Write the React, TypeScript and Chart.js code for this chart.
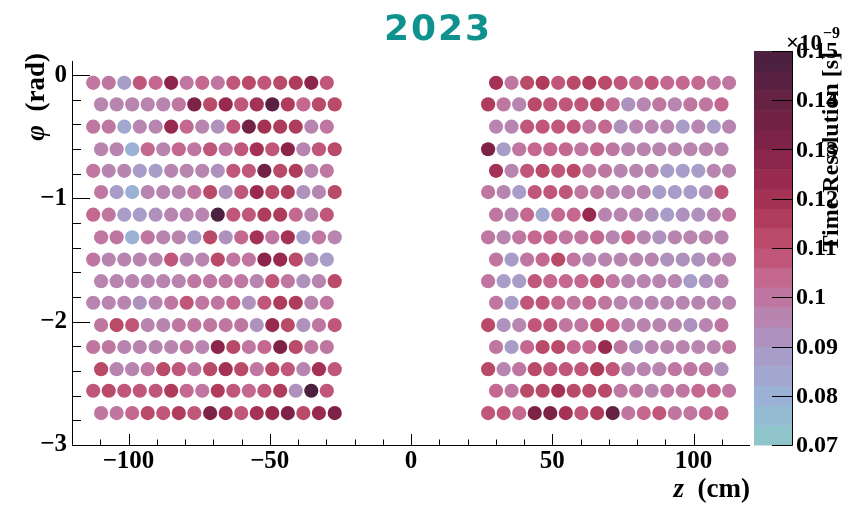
import React, { useEffect, useRef } from "react";
import { Chart, registerables } from "chart.js";

Chart.register(...registerables);

// ---------- data ----------
const chartTitle = "2023";

// phi (rad) of each row of sensors, top to bottom
const phiRows = [
  -0.062, -0.237, -0.418, -0.601, -0.776, -0.948, -1.132, -1.315,
  -1.496, -1.671, -1.846, -2.027, -2.205, -2.385, -2.56, -2.741,
];

// z (cm) of the columns for rows 1,3,5,... and rows 2,4,6,...
const zOddRows = [
  -112.5, -107.0, -101.5, -96.0, -90.4, -84.9, -79.4, -73.9, -68.4, -62.9, -57.4, -51.9, -46.3, -40.8, -35.3, -29.8,
  30.1, 35.6, 41.1, 46.6, 52.1, 57.6, 63.1, 68.7, 74.2, 79.7, 85.2, 90.7, 96.2, 101.7, 107.2, 112.6,
];
const zEvenRows = [
  -109.7, -104.2, -98.7, -93.2, -87.7, -82.2, -76.7, -71.1, -65.6, -60.1, -54.6, -49.1, -43.6, -38.1, -32.6, -27.0,
  27.3, 32.8, 38.3, 43.8, 49.3, 54.8, 60.3, 65.9, 71.4, 76.9, 82.4, 87.9, 93.4, 98.9, 104.4, 109.9,
];

// time resolution (x1e-9 s), one list per row, left half then right half
const row01 = [0.100, 0.099, 0.087, 0.106, 0.105, 0.128, 0.098, 0.104, 0.100, 0.107, 0.112, 0.109, 0.113, 0.115, 0.126, 0.109,
  0.119, 0.099, 0.110, 0.114, 0.109, 0.111, 0.116, 0.112, 0.106, 0.105, 0.109, 0.105, 0.105, 0.102, 0.098, 0.101];
const row02 = [0.097, 0.097, 0.096, 0.094, 0.097, 0.099, 0.130, 0.110, 0.123, 0.106, 0.120, 0.145, 0.115, 0.105, 0.110, 0.110,
  0.115, 0.101, 0.096, 0.110, 0.108, 0.108, 0.109, 0.111, 0.105, 0.093, 0.097, 0.099, 0.094, 0.099, 0.099, 0.103];
const row03 = [0.099, 0.098, 0.083, 0.094, 0.097, 0.124, 0.105, 0.097, 0.091, 0.106, 0.134, 0.120, 0.114, 0.116, 0.097, 0.101,
  0.096, 0.094, 0.108, 0.106, 0.108, 0.106, 0.100, 0.105, 0.091, 0.097, 0.095, 0.095, 0.088, 0.095, 0.089, 0.096];
const row04 = [0.095, 0.095, 0.080, 0.104, 0.095, 0.105, 0.099, 0.106, 0.098, 0.108, 0.119, 0.107, 0.128, 0.094, 0.109, 0.110,
  0.132, 0.088, 0.099, 0.104, 0.102, 0.105, 0.101, 0.102, 0.099, 0.097, 0.095, 0.094, 0.094, 0.094, 0.095, 0.097];
const row05 = [0.098, 0.097, 0.096, 0.088, 0.088, 0.096, 0.097, 0.095, 0.091, 0.106, 0.106, 0.134, 0.112, 0.114, 0.094, 0.101,
  0.118, 0.097, 0.108, 0.113, 0.108, 0.112, 0.099, 0.098, 0.096, 0.095, 0.094, 0.089, 0.088, 0.089, 0.097, 0.097];
const row06 = [0.099, 0.089, 0.080, 0.094, 0.095, 0.095, 0.098, 0.110, 0.092, 0.106, 0.122, 0.110, 0.114, 0.093, 0.096, 0.113,
  0.098, 0.097, 0.088, 0.109, 0.106, 0.106, 0.099, 0.101, 0.096, 0.096, 0.094, 0.089, 0.088, 0.089, 0.092, 0.106];
const row07 = [0.105, 0.098, 0.088, 0.089, 0.090, 0.095, 0.096, 0.097, 0.148, 0.108, 0.106, 0.116, 0.115, 0.105, 0.095, 0.109,
  0.099, 0.095, 0.102, 0.083, 0.105, 0.105, 0.124, 0.097, 0.096, 0.094, 0.093, 0.089, 0.092, 0.093, 0.095, 0.099];
const row08 = [0.101, 0.098, 0.081, 0.099, 0.094, 0.097, 0.088, 0.111, 0.092, 0.105, 0.118, 0.101, 0.121, 0.089, 0.098, 0.097,
  0.099, 0.095, 0.098, 0.105, 0.105, 0.098, 0.098, 0.105, 0.097, 0.102, 0.095, 0.093, 0.097, 0.096, 0.094, 0.094];
const row09 = [0.100, 0.095, 0.095, 0.095, 0.097, 0.107, 0.097, 0.097, 0.111, 0.099, 0.099, 0.128, 0.123, 0.112, 0.090, 0.089,
  0.098, 0.089, 0.100, 0.104, 0.111, 0.101, 0.096, 0.096, 0.095, 0.095, 0.094, 0.093, 0.092, 0.090, 0.097, 0.097];
const row10 = [0.095, 0.094, 0.094, 0.094, 0.095, 0.097, 0.098, 0.100, 0.099, 0.101, 0.094, 0.108, 0.101, 0.090, 0.097, 0.111,
  0.098, 0.089, 0.089, 0.109, 0.105, 0.102, 0.104, 0.106, 0.099, 0.096, 0.095, 0.095, 0.097, 0.088, 0.092, 0.097];
const row11 = [0.095, 0.095, 0.096, 0.090, 0.095, 0.098, 0.106, 0.098, 0.100, 0.103, 0.090, 0.108, 0.114, 0.116, 0.095, 0.101,
  0.098, 0.089, 0.108, 0.109, 0.105, 0.101, 0.104, 0.098, 0.097, 0.097, 0.095, 0.095, 0.094, 0.094, 0.095, 0.097];
const row12 = [0.098, 0.111, 0.109, 0.094, 0.094, 0.099, 0.098, 0.101, 0.101, 0.101, 0.091, 0.122, 0.110, 0.093, 0.098, 0.107,
  0.111, 0.090, 0.095, 0.109, 0.106, 0.101, 0.099, 0.109, 0.103, 0.095, 0.095, 0.094, 0.095, 0.090, 0.096, 0.101];
const row13 = [0.101, 0.098, 0.097, 0.095, 0.094, 0.095, 0.100, 0.095, 0.128, 0.111, 0.098, 0.105, 0.133, 0.112, 0.098, 0.101,
  0.098, 0.089, 0.104, 0.111, 0.111, 0.105, 0.105, 0.122, 0.098, 0.092, 0.095, 0.094, 0.094, 0.095, 0.097, 0.098];
const row14 = [0.112, 0.095, 0.097, 0.101, 0.112, 0.106, 0.100, 0.112, 0.120, 0.112, 0.099, 0.113, 0.108, 0.097, 0.119, 0.108,
  0.112, 0.097, 0.098, 0.112, 0.109, 0.108, 0.109, 0.114, 0.108, 0.096, 0.095, 0.095, 0.098, 0.098, 0.101, 0.093];
const row15 = [0.109, 0.110, 0.109, 0.106, 0.107, 0.114, 0.104, 0.101, 0.115, 0.106, 0.105, 0.109, 0.116, 0.091, 0.148, 0.108,
  0.103, 0.099, 0.111, 0.112, 0.119, 0.111, 0.113, 0.111, 0.099, 0.098, 0.096, 0.098, 0.101, 0.103, 0.104, 0.099];
const row16 = [0.099, 0.101, 0.104, 0.111, 0.109, 0.115, 0.106, 0.133, 0.121, 0.109, 0.120, 0.122, 0.132, 0.112, 0.124, 0.132,
  0.109, 0.106, 0.104, 0.131, 0.133, 0.119, 0.109, 0.114, 0.138, 0.099, 0.105, 0.107, 0.098, 0.100, 0.102, 0.104];
const resolutionRows = [row01, row02, row03, row04, row05, row06, row07, row08,
  row09, row10, row11, row12, row13, row14, row15, row16];

const xTickValues = [-100, -50, 0, 50, 100];
const yTickValues = [-3, -2, -1, 0];
const colorTickValues = [0.07, 0.08, 0.09, 0.1, 0.11, 0.12, 0.13, 0.14, 0.15];
const colorTickLabels = ["0.07", "0.08", "0.09", "0.1", "0.11", "0.12", "0.13", "0.14", "0.15"];
const colorMin = 0.07;
const colorMax = 0.15;
const nContours = 20;

// ---------- style ----------
const palette = [
  "#8fc4cb", "#94bbd1", "#9bb1d6", "#a2a7d0", "#a89dc8",
  "#ae91bd", "#b785b0", "#bf77a1", "#c46890", "#c0577a",
  "#b94a68", "#b03c5c", "#a43254", "#982a4f", "#8b254b",
  "#7e2348", "#722245", "#662243", "#5a2142", "#4c2140",
];
const SERIF = "'Liberation Serif', 'Times New Roman', serif";

function bandIndex(v: number) {
  let i = Math.floor(((v - colorMin) / (colorMax - colorMin)) * nContours + 1e-9);
  if (i < 0) i = 0;
  if (i > nContours - 1) i = nContours - 1;
  return i;
}

const decorations = {
  id: "decorations",
  afterDraw(chart: any) {
    const { ctx, chartArea, scales } = chart;
    const xs = scales.x;
    const ys = scales.y;
    const L = chartArea.left;
    const R = chartArea.right;
    const T = chartArea.top;
    const B = chartArea.bottom;
    ctx.save();
    ctx.strokeStyle = "#000";
    ctx.lineWidth = 1;

    // axis lines
    ctx.beginPath();
    ctx.moveTo(L + 0.5, T);
    ctx.lineTo(L + 0.5, B + 0.5);
    ctx.lineTo(R, B + 0.5);
    ctx.stroke();

    // x ticks (inward)
    ctx.beginPath();
    for (let v = -110; v <= 110; v += 10) {
      const px = Math.round(xs.getPixelForValue(v)) + 0.5;
      const len = v % 50 === 0 ? 11 : 5.5;
      ctx.moveTo(px, B);
      ctx.lineTo(px, B - len);
    }
    // y ticks (inward)
    for (let k = -15; k <= 0; k++) {
      const v = k * 0.2;
      const py = Math.round(ys.getPixelForValue(v)) + 0.5;
      const len = k % 5 === 0 ? 18 : 9;
      ctx.moveTo(L, py);
      ctx.lineTo(L + len, py);
    }
    ctx.stroke();

    // title
    ctx.fillStyle = "#0f918e";
    ctx.font = "bold 36px 'DejaVu Sans', sans-serif";
    (ctx as any).letterSpacing = "2px";
    ctx.textAlign = "center";
    ctx.textBaseline = "alphabetic";
    ctx.fillText(chartTitle, 438, 40);
    (ctx as any).letterSpacing = "0px";

    // x axis title
    ctx.fillStyle = "#000";
    const boldF = `bold 27px ${SERIF}`;
    const italF = `italic bold 27px ${SERIF}`;
    ctx.textAlign = "left";
    ctx.font = boldF;
    const w2 = ctx.measureText("  (cm)").width;
    ctx.font = italF;
    const w1 = ctx.measureText("z").width;
    const x0 = R - w1 - w2;
    ctx.fillText("z", x0, 497);
    ctx.font = boldF;
    ctx.fillText("  (cm)", x0 + w1, 497);

    // y axis title (rotated)
    ctx.save();
    ctx.translate(44, 53);
    ctx.rotate(-Math.PI / 2);
    ctx.font = boldF;
    const wr = ctx.measureText("  (rad)").width;
    ctx.textAlign = "left";
    ctx.fillText("  (rad)", -wr, 0);
    ctx.font = italF;
    const wp = ctx.measureText("\u03C6").width;
    ctx.fillText("\u03C6", -wr - wp, 0);
    ctx.restore();

    // colour bar
    const cbL = 754;
    const cbR = 792;
    const cbB = B;
    const cbT = 51;
    const vy = (v: number) => cbB - ((v - colorMin) / (colorMax - colorMin)) * (cbB - cbT);
    for (let i = 0; i < nContours; i++) {
      const v0 = colorMin + ((colorMax - colorMin) * i) / nContours;
      const v1 = colorMin + ((colorMax - colorMin) * (i + 1)) / nContours;
      const y0 = vy(v0);
      const y1 = vy(v1);
      ctx.fillStyle = palette[i];
      ctx.fillRect(cbL, y1, cbR - cbL, y0 - y1 + 0.5);
    }
    ctx.strokeStyle = "#000";
    ctx.beginPath();
    ctx.moveTo(cbR + 0.5, cbT);
    ctx.lineTo(cbR + 0.5, cbB + 0.5);
    colorTickValues.forEach((v) => {
      const py = Math.round(vy(v)) + 0.5;
      ctx.moveTo(cbR + 0.5, py);
      ctx.lineTo(cbR - 20, py);
    });
    ctx.stroke();
    ctx.fillStyle = "#000";
    ctx.font = `bold 24px ${SERIF}`;
    ctx.textAlign = "left";
    ctx.textBaseline = "middle";
    colorTickValues.forEach((v, i) => {
      ctx.fillText(colorTickLabels[i], 796, vy(v) + 1);
    });

    // exponent
    ctx.textBaseline = "alphabetic";
    ctx.textAlign = "right";
    ctx.font = `bold 23px ${SERIF}`;
    ctx.fillText("\u00D710", 822, 50);
    ctx.textAlign = "left";
    ctx.font = `bold 16px ${SERIF}`;
    ctx.fillText("\u22129", 823, 38);

    // colour bar title
    ctx.save();
    ctx.translate(838, 52);
    ctx.rotate(-Math.PI / 2);
    ctx.font = `bold 24px ${SERIF}`;
    ctx.textAlign = "right";
    ctx.textBaseline = "alphabetic";
    ctx.fillText("Time Resolution [s]", 0, 0);
    ctx.restore();

    ctx.restore();
  },
};

export default function App() {
  const canvasRef = useRef<HTMLCanvasElement | null>(null);

  useEffect(() => {
    if (!canvasRef.current) return;
    const points: { x: number; y: number; v: number }[] = [];
    phiRows.forEach((phi, r) => {
      const zs = r % 2 === 0 ? zOddRows : zEvenRows;
      zs.forEach((z, c) => points.push({ x: z, y: phi, v: resolutionRows[r][c] }));
    });

    const tickFont = { family: SERIF, weight: "bold" as const, size: 25 };
    const fmt = (v: number) => (v < 0 ? "\u2212" + Math.abs(v) : String(v));

    const chart = new Chart(canvasRef.current, {
      type: "scatter",
      data: {
        datasets: [
          {
            data: points as any,
            pointRadius: 7.1,
            pointHoverRadius: 7.1,
            borderWidth: 0,
            pointBorderWidth: 0,
            backgroundColor: (c: any) => palette[bandIndex(c.raw ? c.raw.v : colorMin)],
          },
        ],
      },
      options: {
        responsive: false,
        animation: false,
        events: [],
        devicePixelRatio: 1,
        layout: { padding: { top: 61, right: 99, left: 0, bottom: 0 } },
        plugins: { legend: { display: false }, tooltip: { enabled: false }, title: { display: false } },
        scales: {
          x: {
            type: "linear",
            min: -120,
            max: 120,
            grid: { display: false, drawTicks: false },
            border: { display: false },
            ticks: { font: tickFont, color: "#000", padding: 2, maxRotation: 0, callback: (v: any) => fmt(Number(v)) },
            afterBuildTicks: (s: any) => {
              s.ticks = xTickValues.map((v) => ({ value: v }));
            },
            afterFit: (s: any) => {
              s.height = 63;
            },
          },
          y: {
            type: "linear",
            min: -3,
            max: 0.115,
            grid: { display: false, drawTicks: false },
            border: { display: false },
            ticks: { font: tickFont, color: "#000", padding: 5, callback: (v: any) => fmt(Number(v)) },
            afterBuildTicks: (s: any) => {
              s.ticks = yTickValues.map((v) => ({ value: v }));
            },
            afterFit: (s: any) => {
              s.width = 72;
            },
          },
        },
      },
      plugins: [decorations],
    });
    return () => chart.destroy();
  }, []);

  return (
    <div style={{ position: "absolute", left: 0, top: 0, width: 849, height: 508, background: "#fff" }}>
      <canvas ref={canvasRef} width={849} height={508} style={{ display: "block" }} />
    </div>
  );
}
